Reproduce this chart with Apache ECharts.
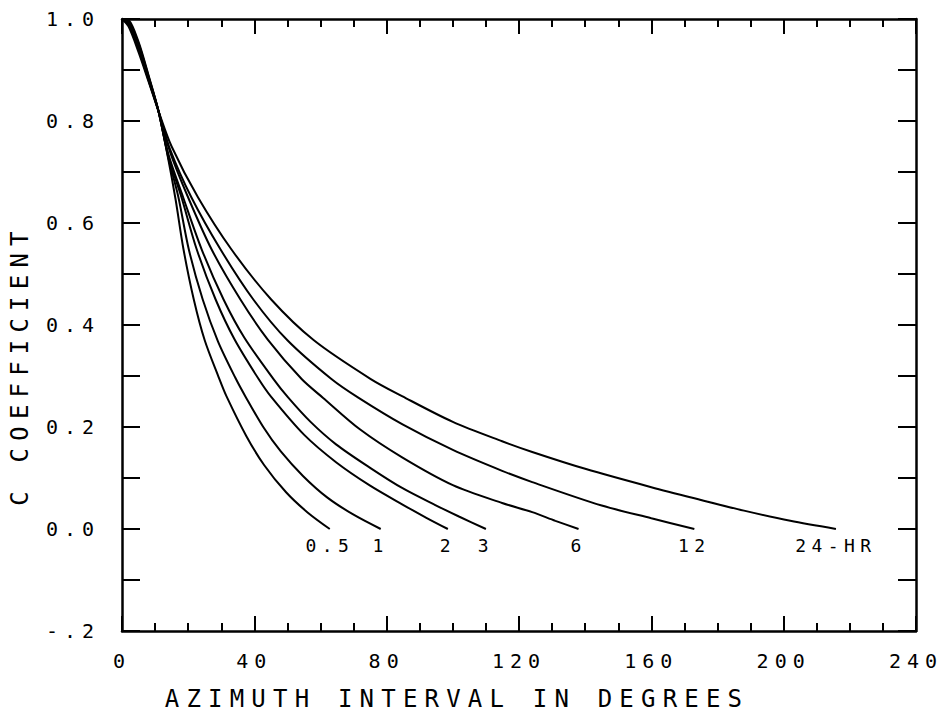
<!DOCTYPE html>
<html><head><meta charset="utf-8">
<script src="https://cdn.jsdelivr.net/npm/echarts@6/dist/echarts.min.js"></script>
<style>
html,body{margin:0;padding:0;background:#fff}
#c{width:945px;height:716px}
#c svg text{letter-spacing:0.3em}
</style></head>
<body><div id="c"></div>
<script>
// Curve data: [azimuth interval (deg), C coefficient]
const curve05 = [[0,1],[2,0.998],[5,0.955],[8,0.89],[11,0.82],[14,0.725],[16.2,0.646],[18.6,0.548],[21.7,0.45],[25,0.37],[29.2,0.298],[31.6,0.26],[37.6,0.182],[43,0.125],[49.6,0.072],[56,0.033],[62.8,0]];
const curve1 = [[0,1],[2,0.996],[5,0.952],[8,0.888],[11,0.82],[14,0.728],[17,0.652],[20.2,0.548],[24.4,0.45],[29,0.368],[34.3,0.296],[37.3,0.26],[42.7,0.2],[48,0.152],[54.7,0.104],[62,0.062],[70,0.028],[78.2,0]];
const curve2 = [[0,1],[2,0.994],[5,0.948],[8,0.886],[11,0.82],[14,0.732],[18,0.65],[22.6,0.548],[28.3,0.45],[34,0.372],[41.3,0.294],[45.1,0.259],[55,0.185],[64.7,0.131],[75,0.085],[84.8,0.048],[92,0.022],[98.5,0]];
const curve3 = [[0,1],[2,0.992],[5,0.945],[8,0.884],[11,0.82],[14,0.735],[18.5,0.65],[24.1,0.548],[30.7,0.45],[37,0.375],[45.8,0.294],[50.2,0.258],[57,0.21],[64.7,0.166],[75,0.12],[84.8,0.08],[94.7,0.047],[102,0.024],[110,0]];
const curve6 = [[0,1],[2,0.99],[5,0.942],[8,0.882],[11,0.82],[14.5,0.74],[20,0.65],[27.1,0.548],[35.8,0.45],[44,0.372],[54.3,0.294],[60.8,0.257],[72,0.195],[84.8,0.14],[100,0.086],[114.9,0.051],[124,0.033],[131,0.016],[138,0]];
const curve12 = [[0,1],[2,0.988],[5,0.94],[8,0.88],[11,0.82],[14.5,0.745],[21,0.65],[29.8,0.548],[39.7,0.45],[50,0.37],[63.3,0.294],[71.3,0.258],[84.8,0.205],[100,0.155],[114.9,0.114],[124,0.092],[145,0.046],[160,0.021],[173,0]];
const curve24 = [[0,1],[2,0.985],[5,0.935],[8,0.878],[11,0.82],[15,0.75],[23,0.65],[33.1,0.548],[45.1,0.45],[58,0.37],[75.2,0.294],[84.8,0.26],[100,0.21],[114.9,0.172],[124,0.151],[140,0.118],[160,0.082],[175,0.057],[188,0.036],[202,0.016],[215.8,0]];
const curveNames = ['0.5','1','2','3','6','12','24-HR'];
const curves = [curve05, curve1, curve2, curve3, curve6, curve12, curve24];
const xTicks = [0,40,80,120,160,200,240];
const yTicks = [-0.2,0,0.2,0.4,0.6,0.8,1.0];
const xTitle = 'AZIMUTH INTERVAL IN DEGREES';
const yTitle = 'C COEFFICIENT';

const FONT = 'DejaVu Sans Mono';
const chart = echarts.init(document.getElementById('c'), null, {renderer:'svg'});

function yFmt(v){
  if (Math.abs(v + 0.2) < 1e-9) return '-.2';
  return (Math.round(v*10)/10).toFixed(1);
}

const baseX = {
  type:'value', min:xTicks[0], max:xTicks[xTicks.length-1], interval:40,
  axisLine:{show:true, onZero:false, lineStyle:{color:'#000', width:2.5}},
  axisTick:{show:true, inside:true, length:15, lineStyle:{color:'#000', width:2}},
  minorTick:{show:true, splitNumber:4, length:8, lineStyle:{color:'#000', width:2}},
  splitLine:{show:false}
};
const baseY = {
  type:'value', min:yTicks[0], max:yTicks[yTicks.length-1], interval:0.2,
  axisLine:{show:true, onZero:false, lineStyle:{color:'#000', width:2.5}},
  axisTick:{show:true, inside:true, length:18, lineStyle:{color:'#000', width:2}},
  minorTick:{show:true, splitNumber:2, length:18, lineStyle:{color:'#000', width:2}},
  splitLine:{show:false}
};

const series = curves.map((c, i) => ({
  type:'line', name:curveNames[i], xAxisIndex:0, yAxisIndex:0,
  smooth:0.3, symbol:'circle', symbolSize:0, showSymbol:true,
  lineStyle:{color:'#000', width:2}, itemStyle:{color:'#000'},
  silent:true, animation:false,
  data: c.map((p, j) => j === c.length-1
    ? {value:p, label:{show:true, position:'bottom', distance:7, formatter:curveNames[i],
        fontFamily:FONT, fontSize:18, color:'#000'}}
    : {value:p})
}));

chart.setOption({
  animation:false,
  backgroundColor:'#fff',
  grid:{left:118, right:29, top:19, bottom:84},
  xAxis:[
    Object.assign({}, baseX, {position:'bottom',
      axisLabel:{show:true, margin:20, fontFamily:FONT, fontSize:20, color:'#000'},
      name:xTitle, nameLocation:'middle', nameGap:56,
      nameTextStyle:{fontFamily:FONT, fontSize:24, color:'#000', padding:[0,124,0,0]}}),
    Object.assign({}, baseX, {position:'top', axisLabel:{show:false}})
  ],
  yAxis:[
    Object.assign({}, baseY, {position:'left',
      axisLabel:{show:true, margin:22, fontFamily:FONT, fontSize:20, color:'#000', formatter:yFmt},
      name:yTitle, nameLocation:'middle', nameGap:90,
      nameTextStyle:{fontFamily:FONT, fontSize:24, color:'#000', padding:[0,80,0,0]}}),
    Object.assign({}, baseY, {position:'right', axisLabel:{show:false}})
  ],
  series: series
});
</script></body></html>
